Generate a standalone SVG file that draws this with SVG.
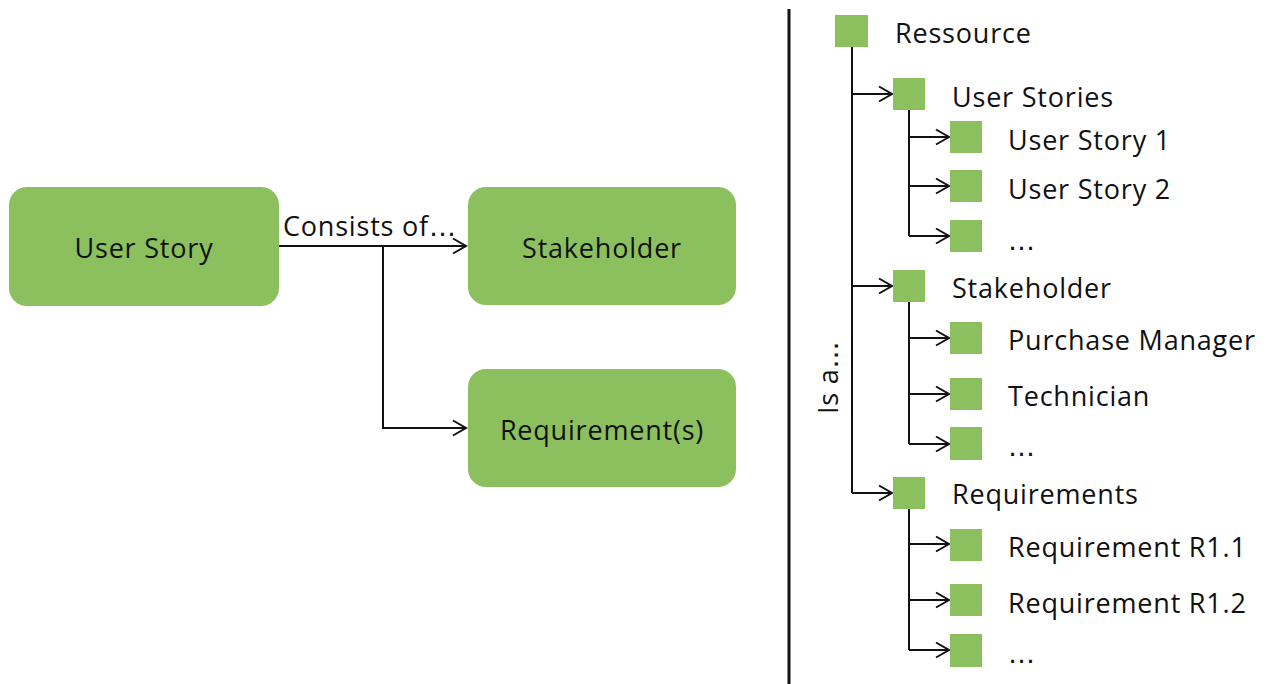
<svg xmlns="http://www.w3.org/2000/svg" width="1267" height="684" viewBox="0 0 1267 684">
  <defs>
    <marker id="arrow" markerWidth="16" markerHeight="18" refX="14" refY="9" orient="auto" markerUnits="userSpaceOnUse">
      <path d="M1,1.5 L14,9 L1,16.5" fill="none" stroke="#111" stroke-width="2"/>
    </marker>
    <style>
      .box { fill: #8CC05E; }
      .sq { fill: #8CC05E; }
      .lbl { font-family: "Open Sans", "Noto Sans", sans-serif; font-size: 27px; fill: #111; letter-spacing: 0.8px; }
      .dots { font-family: "DejaVu Sans", sans-serif; letter-spacing: 0; }
      .mid { text-anchor: middle; }
      .wire { fill: none; stroke: #111; stroke-width: 2; }
      .arr { fill: none; stroke: #111; stroke-width: 2; marker-end: url(#arrow); }
    </style>
  </defs>
  <rect width="1267" height="684" fill="#fff"/>

  <!-- Left part: composition -->
  <g id="node-user-story">
    <rect class="box" x="9" y="187" width="270" height="119" rx="18"/>
    <text class="lbl mid" x="144" y="258">User Story</text>
  </g>
  <g id="node-stakeholder">
    <rect class="box" x="468" y="187" width="268" height="118" rx="18"/>
    <text class="lbl mid" x="602" y="258">Stakeholder</text>
  </g>
  <g id="node-requirements">
    <rect class="box" x="468" y="369" width="268" height="118" rx="18"/>
    <text class="lbl mid" x="602" y="440">Requirement(s)</text>
  </g>

  <g id="connectors-left">
    <path class="arr" d="M279,246 H466"/>
    <path class="arr" d="M383,246 V428 H466"/>
    <text class="lbl" x="283" y="236">Consists of<tspan class="dots">…</tspan></text>
  </g>

  <!-- Divider -->
  <line x1="789" y1="9" x2="789" y2="684" stroke="#111" stroke-width="3"/>

  <!-- Right part: resource hierarchy -->
  <g id="connectors-tree">
    <path class="wire" d="M852,47 V493"/>
    <path class="arr" d="M852,94 H892"/>
    <path class="arr" d="M852,286 H892"/>
    <path class="arr" d="M852,493 H892"/>

    <path class="wire" d="M909,110 V236"/>
    <path class="arr" d="M909,137 H949"/>
    <path class="arr" d="M909,186 H949"/>
    <path class="arr" d="M909,236 H949"/>

    <path class="wire" d="M909,302 V444"/>
    <path class="arr" d="M909,338 H949"/>
    <path class="arr" d="M909,394 H949"/>
    <path class="arr" d="M909,444 H949"/>

    <path class="wire" d="M909,508 V650"/>
    <path class="arr" d="M909,544 H949"/>
    <path class="arr" d="M909,600 H949"/>
    <path class="arr" d="M909,650 H949"/>

    <text class="lbl" transform="translate(838,414) rotate(-90)">Is a<tspan class="dots">…</tspan></text>
  </g>

  <g id="node-ressource">
    <rect class="sq" x="835" y="15" width="33" height="32"/>
    <text class="lbl" x="895" y="43">Ressource</text>
  </g>

  <g id="node-user-stories">
    <rect class="sq" x="893" y="78" width="32" height="32"/>
    <text class="lbl" x="952" y="107">User Stories</text>
  </g>
  <g id="node-user-story-1">
    <rect class="sq" x="950" y="121" width="32" height="32"/>
    <text class="lbl" x="1008" y="150">User Story 1</text>
  </g>
  <g id="node-user-story-2">
    <rect class="sq" x="950" y="170" width="32" height="32"/>
    <text class="lbl" x="1008" y="199">User Story 2</text>
  </g>
  <g id="node-user-story-more">
    <rect class="sq" x="950" y="220" width="32" height="32"/>
    <text class="lbl dots" x="1008" y="250">…</text>
  </g>

  <g id="node-stakeholder-group">
    <rect class="sq" x="893" y="270" width="32" height="32"/>
    <text class="lbl" x="952" y="298">Stakeholder</text>
  </g>
  <g id="node-purchase-manager">
    <rect class="sq" x="950" y="322" width="32" height="32"/>
    <text class="lbl" x="1008" y="350">Purchase Manager</text>
  </g>
  <g id="node-technician">
    <rect class="sq" x="950" y="378" width="32" height="32"/>
    <text class="lbl" x="1008" y="406">Technician</text>
  </g>
  <g id="node-stakeholder-more">
    <rect class="sq" x="950" y="427" width="32" height="33"/>
    <text class="lbl dots" x="1008" y="456">…</text>
  </g>

  <g id="node-requirements-group">
    <rect class="sq" x="893" y="477" width="32" height="32"/>
    <text class="lbl" x="952" y="504">Requirements</text>
  </g>
  <g id="node-requirement-r11">
    <rect class="sq" x="950" y="529" width="32" height="32"/>
    <text class="lbl" x="1008" y="557">Requirement R1.1</text>
  </g>
  <g id="node-requirement-r12">
    <rect class="sq" x="950" y="584" width="32" height="32"/>
    <text class="lbl" x="1008" y="613">Requirement R1.2</text>
  </g>
  <g id="node-requirement-more">
    <rect class="sq" x="950" y="634" width="32" height="33"/>
    <text class="lbl dots" x="1008" y="663">…</text>
  </g>
</svg>
